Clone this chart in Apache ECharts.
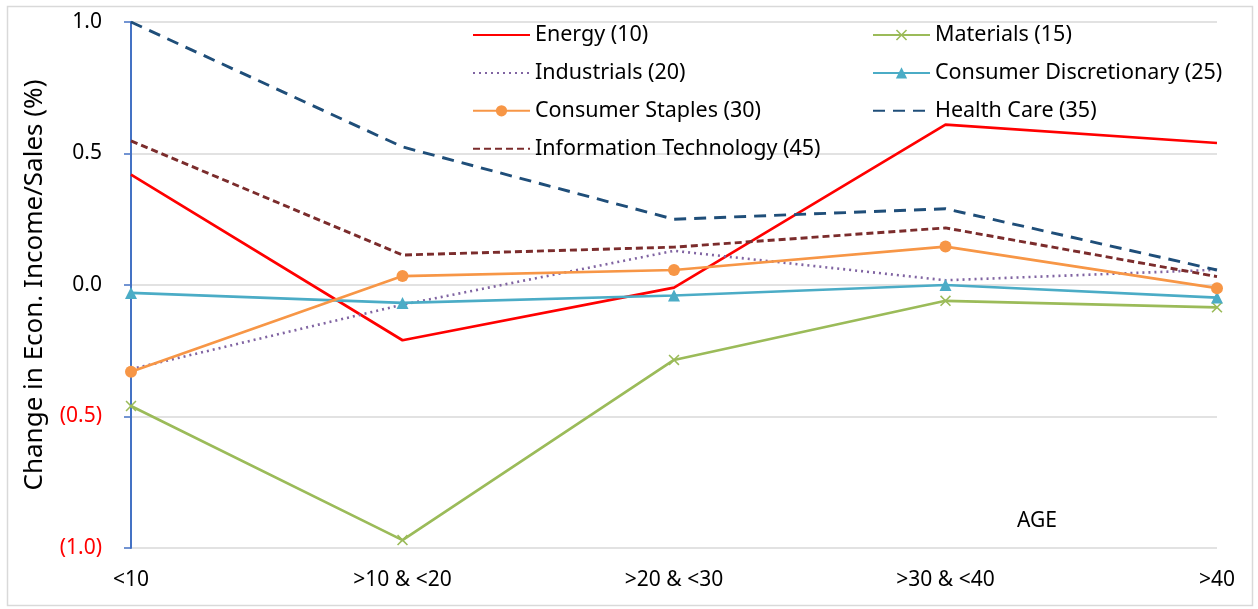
<!DOCTYPE html>
<html>
<head>
<meta charset="utf-8">
<style>
  html, body { margin: 0; padding: 0; background: #ffffff; }
  #chart { width: 1258px; height: 609px; }
</style>
<script src="https://cdn.jsdelivr.net/npm/echarts@6/dist/echarts.min.js"></script>
</head>
<body>
<div id="chart"></div>
<script>
// Age buckets along the horizontal axis
const ageBuckets = ['<10', '>10 & <20', '>20 & <30', '>30 & <40', '>40'];

// Change in economic income / sales (%) per GICS sector
const energy        = [0.42, -0.21, -0.01, 0.61, 0.54];
const materials     = [-0.46, -0.97, -0.285, -0.06, -0.085];
const industrials   = [-0.32, -0.075, 0.13, 0.018, 0.058];
const consDisc      = [-0.03, -0.068, -0.04, 0.0, -0.048];
const consStaples   = [-0.33, 0.034, 0.057, 0.146, -0.012];
const healthCare    = [1.0, 0.525, 0.25, 0.29, 0.057];
const infoTech      = [0.548, 0.114, 0.144, 0.217, 0.032];

const yTicks = [-1.0, -0.5, 0.0, 0.5, 1.0];

const FONT = '"Noto Sans", "Open Sans", sans-serif';
const crossPath = 'path://M0,1L1,0L5,4L9,0L10,1L6,5L10,9L9,10L5,6L1,10L0,9L4,5Z';

const chart = echarts.init(document.getElementById('chart'), null, { renderer: 'canvas' });

function line(name, data, color, opts) {
  return Object.assign({
    name: name,
    type: 'line',
    data: data,
    symbol: 'none',
    symbolSize: 10,
    lineStyle: { color: color, width: 2.7, type: 'solid' },
    itemStyle: { color: color },
    emphasis: { disabled: true },
    z: 3
  }, opts || {});
}

// legend entry for a plain line (no marker in the key)
function plainKey(name) {
  return { name: name, itemStyle: { color: 'rgba(0,0,0,0)', borderWidth: 0, opacity: 0 } };
}

const legendText = { fontSize: 21.5, lineHeight: 24, color: '#000', fontFamily: FONT };

const option = {
  animation: false,
  textStyle: { fontFamily: FONT },
  graphic: [
    {
      type: 'rect',
      shape: { x: 7.5, y: 6.5, width: 1245, height: 599 },
      style: { fill: 'none', stroke: '#d9d9d9', lineWidth: 1.5 },
      silent: true
    },
    {
      type: 'text',
      left: 1017, top: 511,
      style: { text: 'AGE', fontSize: 21, fontFamily: FONT, fill: '#000' },
      silent: true
    }
  ],
  legend: [
    {
      orient: 'vertical',
      left: 472, top: 23, padding: 0,
      itemWidth: 57, itemHeight: 14, itemGap: 13.9,
      textStyle: legendText,
      data: [plainKey('Energy (10)'), plainKey('Industrials (20)'), 'Consumer Staples (30)', plainKey('Information Technology (45)')],
      selectedMode: false
    },
    {
      orient: 'vertical',
      left: 872, top: 23, padding: 0,
      itemWidth: 57, itemHeight: 14, itemGap: 13.9,
      textStyle: legendText,
      data: ['Materials (15)', 'Consumer Discretionary (25)', plainKey('Health Care (35)')],
      selectedMode: false
    }
  ],
  grid: { left: 131, right: 41, top: 22, bottom: 61, containLabel: false },
  xAxis: {
    type: 'category',
    data: ageBuckets,
    boundaryGap: false,
    axisLine: { show: false },
    axisTick: { show: false },
    axisLabel: { color: '#000', fontSize: 21, margin: 22, fontFamily: FONT },
    splitLine: { show: false }
  },
  yAxis: {
    type: 'value',
    min: yTicks[0],
    max: yTicks[yTicks.length - 1],
    interval: 0.5,
    name: 'Change in Econ. Income/Sales (%)',
    nameLocation: 'middle',
    nameGap: 83,
    nameRotate: 90,
    nameTextStyle: { fontSize: 26, color: '#000', fontFamily: FONT },
    axisLine: { show: true, lineStyle: { color: '#4472c4', width: 2 } },
    axisTick: { show: true, length: 7, lineStyle: { color: '#4472c4', width: 1.5 } },
    axisLabel: {
      margin: 29,
      fontSize: 21,
      fontFamily: FONT,
      formatter: function (v) {
        const s = Math.abs(v).toFixed(1);
        return v < 0 ? '{neg|(' + s + ')}' : '{pos|' + s + '}';
      },
      rich: {
        neg: { color: '#ff0000', fontSize: 21, fontFamily: FONT },
        pos: { color: '#000000', fontSize: 21, fontFamily: FONT }
      }
    },
    splitLine: { show: true, lineStyle: { color: '#d9d9d9', width: 1.5 } }
  },
  series: [
    line('Energy (10)', energy, '#ff0000'),
    line('Materials (15)', materials, '#9bbb59', { symbol: crossPath, symbolSize: 11 }),
    line('Industrials (20)', industrials, '#8064a2', {
      lineStyle: { color: '#8064a2', width: 2.6, type: [2, 4] }
    }),
    line('Consumer Discretionary (25)', consDisc, '#4bacc6', { symbol: 'triangle', symbolSize: 12 }),
    line('Consumer Staples (30)', consStaples, '#f79646', { symbol: 'circle', symbolSize: 12 }),
    line('Health Care (35)', healthCare, '#1f4e79', {
      lineStyle: { color: '#1f4e79', width: 2.9, type: [12, 8] }
    }),
    line('Information Technology (45)', infoTech, '#7b2c2c', {
      lineStyle: { color: '#7b2c2c', width: 2.9, type: [7, 4] }
    })
  ]
};

chart.setOption(option);
</script>
</body>
</html>
